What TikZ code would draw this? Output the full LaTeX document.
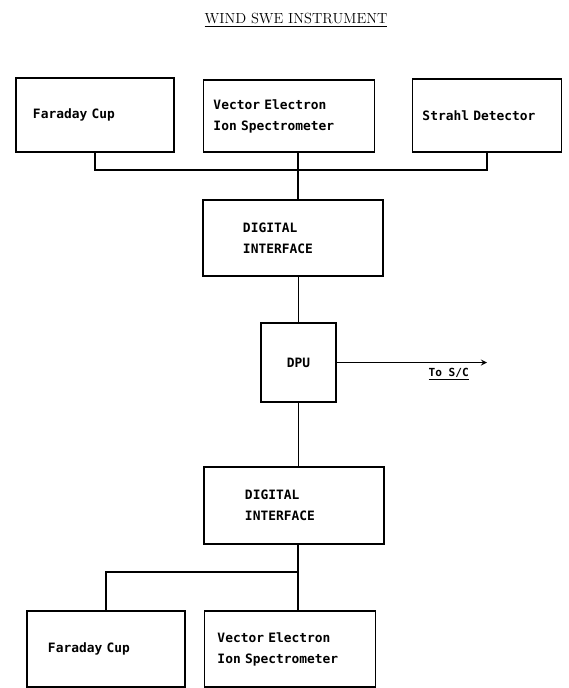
\documentclass[tikz,border=0pt]{standalone}
\usepackage{fontspec}
\newfontfamily\unitfont{DejaVu Sans Mono}
\usetikzlibrary{positioning,arrows}
\tikzstyle{unit}  = [rectangle, draw, line width=1.1pt, align=left, inner ysep=0pt,
                     font=\unitfont\bfseries\fontsize{11}{18}\selectfont]
\tikzstyle{wire}  = [line width=1.1pt]
\tikzstyle{arrow} = [line width=1.3pt,->,>=stealth]

\begin{document}
\begin{tikzpicture}[x=0.03cm, y=-0.03cm]
		\useasboundingbox (0,0) rectangle (569,688);

		\node (title) at (296,20) {\fontsize{12.5}{15}\selectfont\underline{WIND SWE INSTRUMENT}};

		% sensors on top
		\node[unit, minimum height=2.22cm, text width=3.72cm, inner xsep=0.51cm] (fc1) at (95,115) {Faraday Cup};
		\node[unit, minimum height=2.16cm, text width=4.53cm, inner xsep=0.3cm] (ve1) at (289,116) {Vector Electron\\Ion Spectrometer};
		\node[unit, minimum height=2.19cm, text width=3.87cm, inner xsep=0.3cm] (sd1) at (487,115.5) {Strahl Detector};

		\node[unit, minimum height=2.28cm, text width=3.0cm, inner xsep=1.2cm] (di1) at (293,238) {DIGITAL\\INTERFACE};
		\node[unit, minimum height=2.37cm, minimum width=2.25cm, align=center] (dpu) at (298.5,362.5) {DPU};
		\node[unit, minimum height=2.31cm, text width=2.94cm, inner xsep=1.23cm] (di2) at (294,505.5) {DIGITAL\\INTERFACE};

		% sensors below
		\node[unit, minimum height=2.28cm, text width=3.48cm, inner xsep=0.63cm] (fc2) at (106,649) {Faraday Cup};
		\node[unit, minimum height=2.28cm, text width=4.35cm, inner xsep=0.39cm] (ve2) at (290,649) {Vector Electron\\Ion Spectrometer};

		\coordinate (topbus) at (298,170);
		\coordinate (botbus) at (298,572);
		\coordinate (sc) at (487,362.5);

		\draw[wire] (fc1.south) |- (topbus) -| (sd1.south);
		\draw[wire] (topbus |- ve1.south) -- (topbus |- di1.north);
		\draw[wire] (dpu.north |- di1.south) -- (dpu.north);
		\draw[arrow] (dpu.east) -- (sc);
		\node[below=1pt of sc, xshift=-1.15cm, font=\unitfont\bfseries\fontsize{9.5}{11}\selectfont] (sclabel) {\underline{To S/C}};
		\draw[wire] (dpu.south) -- (dpu.south |- di2.north);
		\draw[wire] (botbus |- di2.south) -- (botbus) -| (fc2.north);
		\draw[wire] (botbus) -- (botbus |- ve2.north);
	\end{tikzpicture}
\end{document}
